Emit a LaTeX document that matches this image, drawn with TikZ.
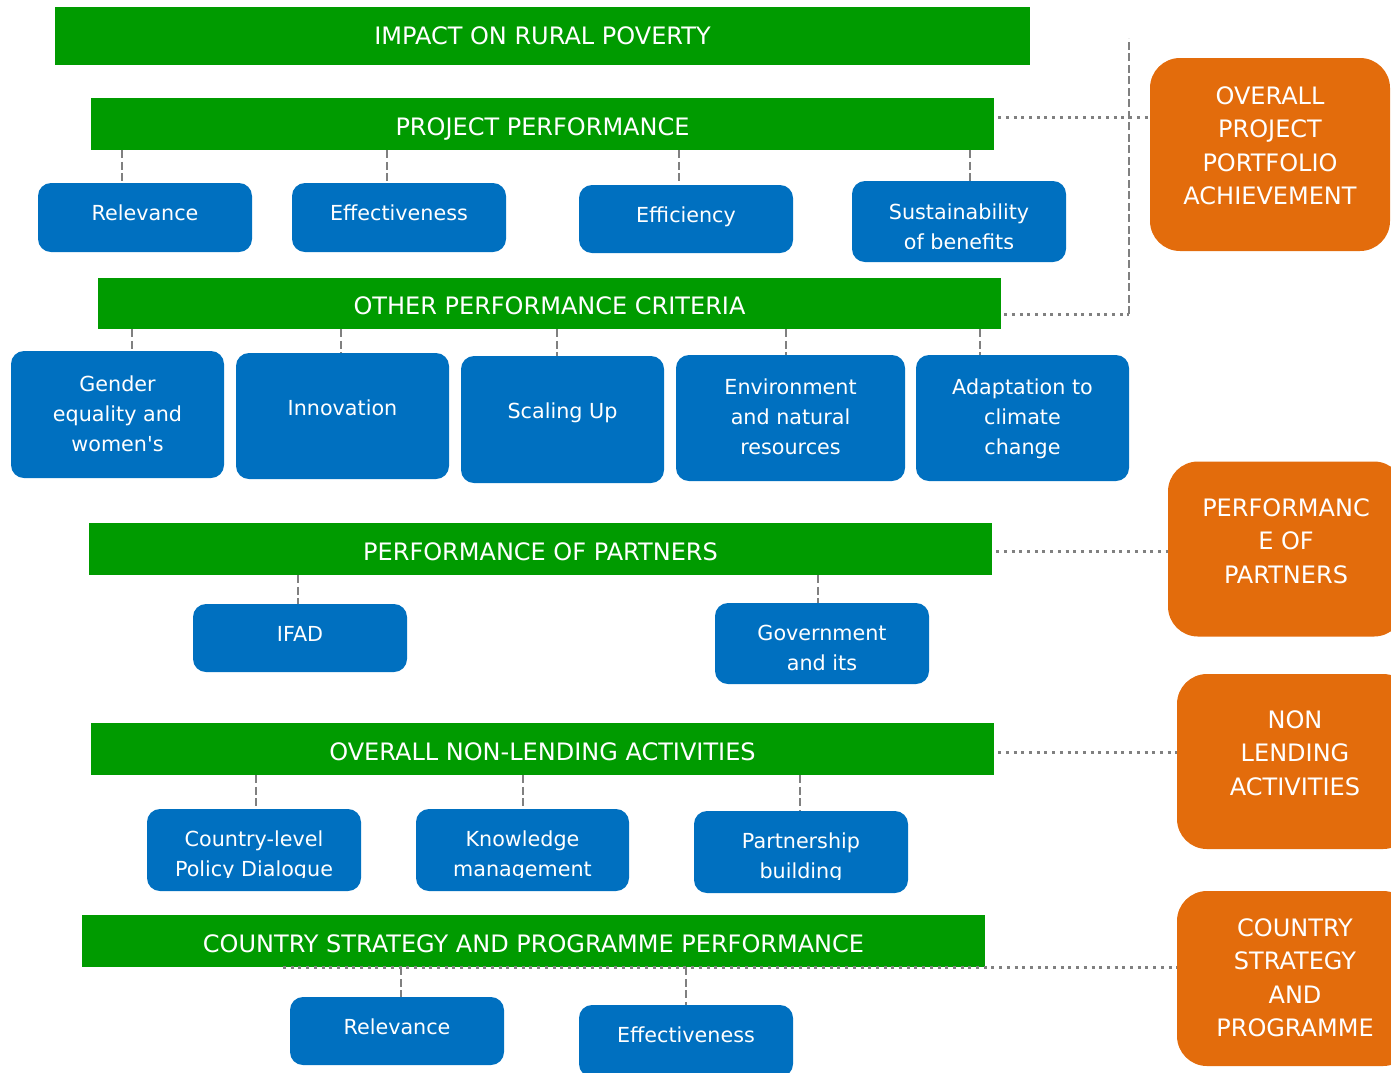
\documentclass[tikz,border=0pt]{standalone}
\usepackage{fontspec}
\setmainfont{DejaVu Sans}
\usepackage{tikz}
\definecolor{barGreen}{RGB}{0,155,0}
\definecolor{boxBlue}{RGB}{0,112,192}
\definecolor{sumOrange}{RGB}{227,108,12}
\definecolor{linkGray}{RGB}{128,128,128}
\tikzset{every picture/.style={line width=.55pt}}

\begin{document}
\begin{tikzpicture}[x=1pt,y=-1pt,
 bar/.style={fill=barGreen,text=white,inner sep=0pt,minimum width=903,minimum height=52,
  text height=22pt,text depth=0pt,font=\fontsize{24}{29}\selectfont},
 tile/.style={fill=boxBlue,rounded corners=13pt,inner sep=0pt,minimum width=214},
 tiletxt/.style={text=white,align=center,inner sep=0pt,font=\fontsize{20.7}{30}\selectfont},
 goal/.style={fill=sumOrange,rounded corners=30pt,inner sep=0pt,minimum width=236,minimum height=175},
 goaltxt/.style={text=white,align=center,inner sep=0pt,font=\fontsize{24}{33.5}\selectfont},
 link/.style={draw=linkGray,line width=2.3pt,dash pattern=on 8pt off 3.5pt},
 dots/.style={draw=linkGray,line width=3pt,dash pattern=on 3pt off 4.7pt}]
 \clip (0,0) rectangle (1391,1072);

 % Green headings.
 \node[bar,minimum width=975,minimum height=58,text height=17.5pt] (imp) at (542.5,36) {IMPACT ON RURAL POVERTY};
 \node[bar] (pp) at (542.5,124) {PROJECT PERFORMANCE};
 \node[bar,minimum height=51] (opc) at (549.5,303.5) {OTHER PERFORMANCE CRITERIA};
 \node[bar] (pop) at (540.5,549) {PERFORMANCE OF PARTNERS};
 \node[bar] (nla) at (542.5,749) {OVERALL NON-LENDING ACTIVITIES};
 \node[bar] (csp) at (533.5,941) {COUNTRY STRATEGY AND PROGRAMME PERFORMANCE};

 % Blue criteria, project performance.
 \node[tile,minimum height=69] (rel) at (145,217.5) {};
 \node[tile,minimum height=69] (eff) at (399,217.5) {};
 \node[tile,minimum height=68] (effi) at (686,219) {};
 \node[tile,minimum height=81] (sus) at (959,221.5) {};
 \node[tiletxt] (rel-t) at (145,213) {Relevance};
 \node[tiletxt] (eff-t) at (399,212.5) {Effectiveness};
 \node[tiletxt] (effi-t) at (686,216.5) {Efficiency};
 \begin{scope}
  \clip (sus.north west) rectangle ([yshift=14pt]sus.south east);
  \node[tiletxt] (sus-t) at (959,226.5) {Sustainability\\of benefits};
 \end{scope}

 % Other performance criteria.
 \node[tile,minimum width=213,minimum height=127] (gen) at (117.5,414.5) {};
 \node[tile,minimum width=213,minimum height=126] (inn) at (342.5,416) {};
 \node[tile,minimum width=203,minimum height=127] (scl) at (562.5,419.5) {};
 \node[tile,minimum width=229,minimum height=126] (env) at (790.5,418) {};
 \node[tile,minimum width=213,minimum height=126] (ada) at (1022.5,418) {};
 \node[tiletxt] (gen-t) at (117.5,414) {Gender\\equality and\\women\textquotesingle s};
 \node[tiletxt] (inn-t) at (342.5,408) {Innovation};
 \node[tiletxt] (scl-t) at (562.5,413) {Scaling Up};
 \node[tiletxt] (env-t) at (790.5,417) {Environment\\and natural\\resources};
 \node[tiletxt] (ada-t) at (1022.5,419) {Adaptation to\\climate\\change};

 % Partners.
 \node[tile,minimum height=68] (ifad) at (300,638) {};
 \node[tile,minimum height=81] (gov) at (822,643.5) {};
 \node[tiletxt] (ifad-t) at (300,634) {IFAD};
 \begin{scope}
  \clip (gov.north west) rectangle ([yshift=14pt]gov.south east);
  \node[tiletxt] (gov-t) at (822,648) {Government\\and its};
 \end{scope}

 % Non-lending activities.
 \node[tile,minimum height=82] (cld) at (254,850) {};
 \node[tile,minimum width=213,minimum height=82] (knm) at (522.5,850) {};
 \node[tile,minimum height=82] (ptn) at (801,852) {};
 \begin{scope}
  \clip (cld.north west) rectangle ([yshift=14pt]knm.south east);
  \node[tiletxt] (cld-t) at (254,856) {Country-level\\Policy Dialogue};
  \node[tiletxt] (knm-t) at (522.5,856) {Knowledge\\management};
 \end{scope}
 \begin{scope}
  \clip (ptn.north west) rectangle ([yshift=14pt]ptn.south east);
  \node[tiletxt] (ptn-t) at (801,858) {Partnership\\building};
 \end{scope}

 % Country strategy.
 \node[tile,minimum height=68] (crel) at (397,1031) {};
 \node[tile,minimum height=72] (ceff) at (686,1041) {};
 \node[tiletxt] (crel-t) at (397,1027) {Relevance};
 \node[tiletxt] (ceff-t) at (686,1035) {Effectiveness};

 % Orange summaries on the right.
 \node[goal,minimum width=240,minimum height=193] (oppa) at (1270,154.5) {};
 \node[goal] (gpop) at (1286,549) {};
 \node[goal] (gnla) at (1295,761.5) {};
 \node[goal] (gcsp) at (1295,978.5) {};
 \node[goaltxt] (oppa-t) at (1270,146) {OVERALL\\PROJECT\\PORTFOLIO\\ACHIEVEMENT};
 \node[goaltxt] (gpop-t) at (1286,541) {PERFORMANC\\E OF\\PARTNERS};
 \node[goaltxt] (gnla-t) at (1295,753) {NON\\LENDING\\ACTIVITIES};
 \node[goaltxt] (gcsp-t) at (1295,977.5) {COUNTRY\\STRATEGY\\AND\\PROGRAMME};

 % Dashed ties from headings down to the criteria.
 \foreach \xx/\crit/\head in {122/rel/pp,387/eff/pp,679/effi/pp,970/sus/pp,
   132/gen/opc,341/inn/opc,557/scl/opc,786/env/opc,980/ada/opc,
   298/ifad/pop,818/gov/pop,256/cld/nla,523/knm/nla,800/ptn/nla,
   401/crel/csp,686/ceff/csp}
  \draw[link] (\head.south -| \xx,0) -- (\crit.north -| \xx,0);

 % Dotted ties out to the summaries.
 \coordinate (bend) at (1129,314);
 \coordinate (top) at (1129,38);
 \draw[dots] ([xshift=4pt]pp.east |- 0,117) -- (oppa.west |- 0,117);
 \draw[dots] ([xshift=3pt]opc.east |- bend) -- (bend);
 \draw[link] (bend) -- (top);
 \draw[dots] ([xshift=4pt]pop.east |- 0,551) -- (gpop.west |- 0,551);
 \draw[dots] ([xshift=4pt]nla.east |- 0,752) -- (gnla.west |- 0,752);
 \draw[dots] (csp.south -| 283,0) -- (gcsp.west |- csp.south);
\end{tikzpicture}
\end{document}
